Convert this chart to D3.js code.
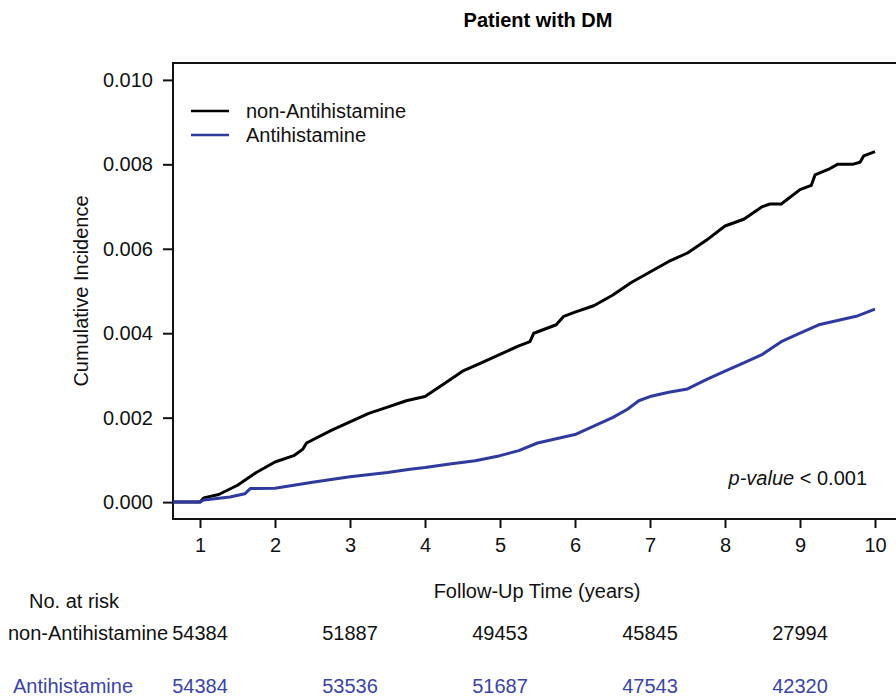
<!DOCTYPE html>
<html>
<head>
<meta charset="utf-8">
<script src="https://cdn.jsdelivr.net/npm/d3@7"></script>
<style>
  body { margin: 0; background: #fff; }
  svg { display: block; font-family: "Liberation Sans", Arial, sans-serif; }
</style>
</head>
<body>
<div id="mainContainer"></div>
<script>
// follow-up times (years) and cumulative incidence
var nonTimes = [0.64, 1.0, 1.05, 1.25, 1.5, 1.75, 2.0, 2.25, 2.37, 2.42, 2.75, 3.0, 3.25, 3.5, 3.75, 4.0,
    4.25, 4.5, 4.75, 5.0, 5.25, 5.4, 5.45, 5.75, 5.85, 6.0, 6.25, 6.5, 6.75, 7.0, 7.25, 7.5, 7.75,
    8.0, 8.25, 8.5, 8.6, 8.75, 9.0, 9.15, 9.2, 9.4, 9.5, 9.7, 9.8, 9.85, 10.0];
var nonValues = [0, 0, 0.0001, 0.00018, 0.0004, 0.0007, 0.00095, 0.0011, 0.00125, 0.0014, 0.0017, 0.0019, 0.0021, 0.00225, 0.0024, 0.0025,
    0.0028, 0.0031, 0.0033, 0.0035, 0.0037, 0.0038, 0.0040, 0.0042, 0.0044, 0.0045, 0.00465, 0.0049, 0.0052, 0.00545, 0.0057, 0.0059, 0.0062,
    0.00654, 0.0067, 0.0070, 0.00706, 0.00706, 0.0074, 0.0075, 0.00775, 0.0079, 0.0080, 0.0080, 0.00805, 0.0082, 0.0083];

var antiTimes = [0.64, 1.0, 1.05, 1.4, 1.6, 1.67, 2.0, 2.5, 3.0, 3.5, 3.8, 4.0, 4.33, 4.67, 5.0, 5.25,
    5.5, 5.75, 6.0, 6.25, 6.5, 6.7, 6.85, 7.0, 7.25, 7.5, 7.75, 8.0, 8.25, 8.5, 8.75, 9.0,
    9.25, 9.5, 9.75, 10.0];
var antiValues = [0, 0, 0.00005, 0.00012, 0.0002, 0.00032, 0.00033, 0.00047, 0.0006, 0.0007, 0.00078, 0.00082, 0.0009, 0.00098, 0.0011, 0.00122,
    0.0014, 0.0015, 0.0016, 0.0018, 0.0020, 0.0022, 0.0024, 0.0025, 0.0026, 0.00268, 0.0029, 0.0031, 0.0033, 0.0035, 0.0038, 0.0040,
    0.0042, 0.0043, 0.0044, 0.00457];

var seriesNames = ["non-Antihistamine", "Antihistamine"];
var xTicks = [1, 2, 3, 4, 5, 6, 7, 8, 9, 10];
var yTicks = [0, 0.002, 0.004, 0.006, 0.008, 0.010];

var riskTimes = [1, 3, 5, 7, 9];
var riskNon = [54384, 51887, 49453, 45845, 27994];
var riskAnti = [54384, 53536, 51687, 47543, 42320];

var black = "#000000", blue = "#2f3a9e", blueText = "#3a44a6";

var W = 896, H = 699;
var svg = d3.select('#mainContainer').append('svg')
    .attr('width', W)
    .attr('height', H);

// R style 4% axis extension
var xExt = 0.04 * (10 - 1), yExt = 0.04 * 0.010;
var xscale = d3.scaleLinear()
    .domain([1 - xExt, 10 + xExt])
    .range([173, 902]);
var yscale = d3.scaleLinear()
    .domain([0 - yExt, 0.010 + yExt])
    .range([519, 63]);

// plot box
svg.append("rect")
    .attr("x", xscale.range()[0])
    .attr("y", yscale.range()[1])
    .attr("width", xscale.range()[1] - xscale.range()[0])
    .attr("height", yscale.range()[0] - yscale.range()[1])
    .attr("fill", "none")
    .attr("stroke", "#111")
    .attr("stroke-width", 2);

var xAxis = svg.append("g")
    .attr("transform", "translate(0," + yscale.range()[0] + ")")
    .call(d3.axisBottom(xscale).tickValues(xTicks).tickSize(9).tickPadding(10).tickFormat(d3.format("d")));
xAxis.select(".domain").remove();
xAxis.selectAll("line").attr("stroke", "#111").attr("stroke-width", 2);
xAxis.selectAll("text")
    .attr("font-size", "20px")
    .attr("fill", "#111")
    .attr("font-family", "Liberation Sans, Arial, sans-serif");

var yAxis = svg.append("g")
    .attr("transform", "translate(" + xscale.range()[0] + ",0)")
    .call(d3.axisLeft(yscale).tickValues(yTicks).tickSize(10).tickPadding(10).tickFormat(d3.format(".3f")));
yAxis.select(".domain").remove();
yAxis.selectAll("line").attr("stroke", "#111").attr("stroke-width", 2);
yAxis.selectAll("text")
    .attr("font-size", "20px")
    .attr("fill", "#111")
    .attr("font-family", "Liberation Sans, Arial, sans-serif");

// curves
var line = d3.line()
    .x(function(d) { return xscale(d[0]); })
    .y(function(d) { return yscale(d[1]); });

svg.append("path")
    .datum(d3.zip(nonTimes, nonValues))
    .attr("d", line)
    .attr("fill", "none")
    .attr("stroke", black)
    .attr("stroke-width", 3)
    .attr("stroke-linejoin", "round");

svg.append("path")
    .datum(d3.zip(antiTimes, antiValues))
    .attr("d", line)
    .attr("fill", "none")
    .attr("stroke", blue)
    .attr("stroke-width", 3)
    .attr("stroke-linejoin", "round");

// title and axis labels
svg.append("text")
    .attr("x", 538)
    .attr("y", 27)
    .attr("text-anchor", "middle")
    .attr("font-size", "20px")
    .attr("font-weight", "bold")
    .text("Patient with DM");

svg.append("text")
    .attr("transform", "translate(88,291) rotate(-90)")
    .attr("text-anchor", "middle")
    .attr("font-size", "20px")
    .attr("fill", "#111")
    .text("Cumulative Incidence");

svg.append("text")
    .attr("x", 537)
    .attr("y", 598)
    .attr("text-anchor", "middle")
    .attr("font-size", "20px")
    .attr("fill", "#111")
    .text("Follow-Up Time (years)");

// legend
var legend = svg.append("g");
[black, blue].forEach(function(c, i) {
    legend.append("line")
        .attr("x1", 191).attr("x2", 229)
        .attr("y1", 111 + i * 24).attr("y2", 111 + i * 24)
        .attr("stroke", c)
        .attr("stroke-width", 2.5);
    legend.append("text")
        .attr("x", 246)
        .attr("y", 118 + i * 24)
        .attr("font-size", "20px")
        .attr("fill", "#111")
        .text(seriesNames[i]);
});

// p-value note
var pv = svg.append("text")
    .attr("x", 867)
    .attr("y", 485)
    .attr("text-anchor", "end")
    .attr("font-size", "20px")
    .attr("fill", "#111");
pv.append("tspan").attr("font-style", "italic").text("p-value");
pv.append("tspan").text(" < 0.001");

// number at risk table
svg.append("text")
    .attr("x", 29)
    .attr("y", 608)
    .attr("font-size", "20px")
    .attr("fill", "#111")
    .text("No. at risk");

svg.append("text")
    .attr("x", 8)
    .attr("y", 640)
    .attr("font-size", "20px")
    .attr("fill", "#111")
    .text(seriesNames[0]);

svg.append("text")
    .attr("x", 13)
    .attr("y", 693)
    .attr("font-size", "20px")
    .attr("fill", blueText)
    .text(seriesNames[1]);

svg.selectAll(".riskNon")
    .data(riskTimes)
    .enter().append("text")
    .attr("class", "riskNon")
    .attr("x", function(d) { return xscale(d); })
    .attr("y", 640)
    .attr("text-anchor", "middle")
    .attr("font-size", "20px")
    .attr("fill", "#111")
    .text(function(d, i) { return riskNon[i]; });

svg.selectAll(".riskAnti")
    .data(riskTimes)
    .enter().append("text")
    .attr("class", "riskAnti")
    .attr("x", function(d) { return xscale(d); })
    .attr("y", 693)
    .attr("text-anchor", "middle")
    .attr("font-size", "20px")
    .attr("fill", blueText)
    .text(function(d, i) { return riskAnti[i]; });
</script>
</body>
</html>
